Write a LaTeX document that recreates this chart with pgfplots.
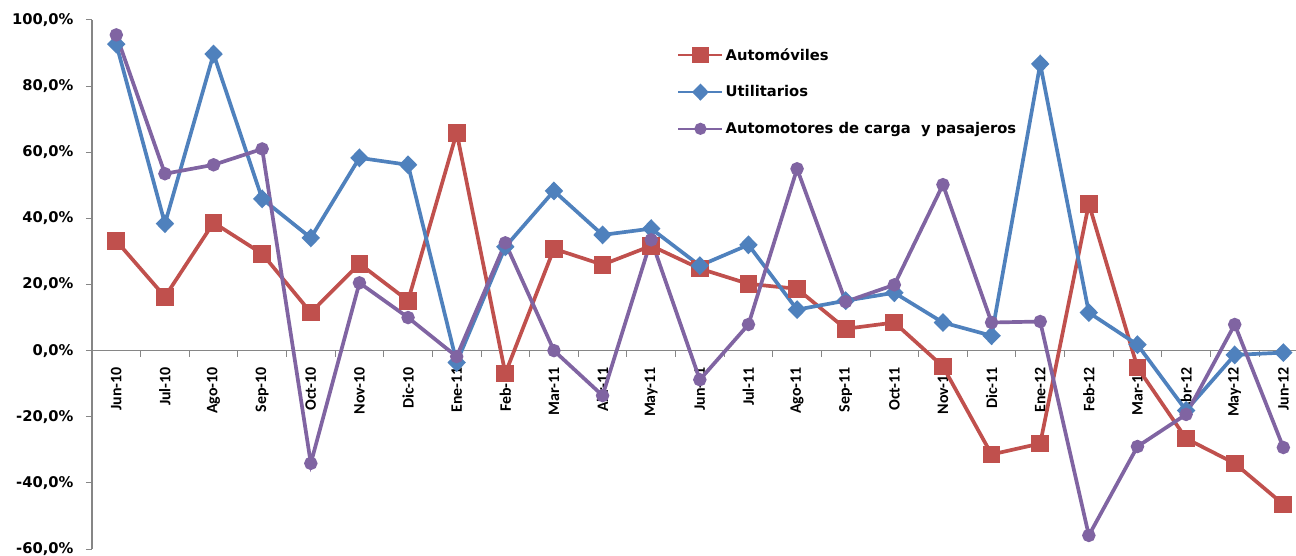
\documentclass[border=0pt]{standalone}
\usepackage{fontspec}
\setmainfont{DejaVu Sans}
\newfontfamily\xfont{Carlito}
\usepackage{pgfplots}
\pgfplotsset{compat=1.18}

\definecolor{autoRed}{HTML}{C0504D}
\definecolor{utilBlue}{HTML}{4F81BD}
\definecolor{cargaPurple}{HTML}{8064A2}
\definecolor{axisgray}{HTML}{868686}

\begin{document}
\begin{tikzpicture}
\begin{axis}[
  scale only axis,
  width=1204bp, height=529bp,
  xmin=-0.5, xmax=24.26,
  ymin=-60, ymax=100,
  clip=false,
  axis y line*=left,
  axis x line*=middle,
  axis line style={draw=axisgray, line width=1.2bp},
  ytick={-60,-40,...,100},
  ytick align=outside,
  major tick length=6bp,
  y tick style={axisgray, line width=1bp},
  yticklabel={\pgfmathprintnumber[fixed,fixed zerofill,precision=1,use comma]{\tick}\%},
  /pgf/number format/assume math mode=true,
  yticklabel style={font=\fontsize{14.8}{17}\selectfont\bfseries, text=black, xshift=-9bp},
  xtick={0,...,24},
  xticklabels={Jun-10,Jul-10,Ago-10,Sep-10,Oct-10,Nov-10,Dic-10,Ene-11,Feb-11,Mar-11,Abr-11,May-11,Jun-11,Jul-11,Ago-11,Sep-11,Oct-11,Nov-11,Dic-11,Ene-12,Feb-12,Mar-12,Abr-12,May-12,Jun-12},
  major x tick style={draw=none},
  minor xtick={0.5,1.5,...,23.5},
  minor x tick style={axisgray, line width=1bp},
  minor tick length=6bp,
  xtick align=outside,
  xticklabel shift=7bp,
  xticklabel style={font=\xfont\fontsize{16}{18}\selectfont\bfseries, rotate=90, anchor=east, text=black},
  every axis plot/.append style={line width=3.7bp},
  legend style={draw=none, fill=none, at={(0.4834,0.954)}, anchor=north west,
    font=\fontsize{14.8}{16}\selectfont\bfseries, row sep=20bp},
  legend cell align=left,
  legend image code/.code={%
    \draw[mark repeat=2, mark phase=2, #1, line width=2.5bp]
      plot coordinates {(0bp,0bp) (22bp,0bp) (44bp,0bp)};},
]

% Automóviles
\addplot[color=autoRed, mark=square*, mark size=7bp, mark options={solid}] coordinates {
 (0,33.2) (1,16.3) (2,38.7) (3,29.3) (4,11.5) (5,26.3) (6,15.1) (7,65.9)
 (8,-6.9) (9,30.8) (10,26.0) (11,31.7) (12,24.8) (13,20.2) (14,18.7)
 (15,6.6) (16,8.5) (17,-4.8) (18,-31.4) (19,-28.1) (20,44.4) (21,-5.1)
 (22,-26.6) (23,-34.1) (24,-46.5)};
\addlegendentry{Automóviles}

% Utilitarios
\addplot[color=utilBlue, mark=diamond*, mark size=6.8bp, mark options={solid, xscale=1.3}] coordinates {
 (0,92.7) (1,38.4) (2,89.7) (3,45.9) (4,34.1) (5,58.3) (6,56.2) (7,-3.6)
 (8,31.4) (9,48.3) (10,35.0) (11,36.9) (12,25.7) (13,32.0) (14,12.4)
 (15,15.1) (16,17.5) (17,8.5) (18,4.5) (19,86.7) (20,11.5) (21,1.8)
 (22,-18.1) (23,-1.3) (24,-0.6)};
\addlegendentry{Utilitarios}

% Automotores de carga y pasajeros
\addplot[color=cargaPurple, mark=*, mark size=4.8bp, mark options={solid}] coordinates {
 (0,95.5) (1,53.5) (2,56.2) (3,61.0) (4,-34.1) (5,20.5) (6,10.0) (7,-1.8)
 (8,32.6) (9,0.0) (10,-13.6) (11,33.5) (12,-8.8) (13,7.9) (14,55.0)
 (15,14.8) (16,19.9) (17,50.2) (18,8.5) (19,8.8) (20,-55.9) (21,-29.0)
 (22,-19.3) (23,7.9) (24,-29.3)};
\addlegendentry{Automotores de carga\ \ y pasajeros}

\end{axis}
\pgfresetboundingbox
\useasboundingbox (-92bp,-7bp) rectangle (1204bp,549bp);
\end{tikzpicture}
\end{document}
